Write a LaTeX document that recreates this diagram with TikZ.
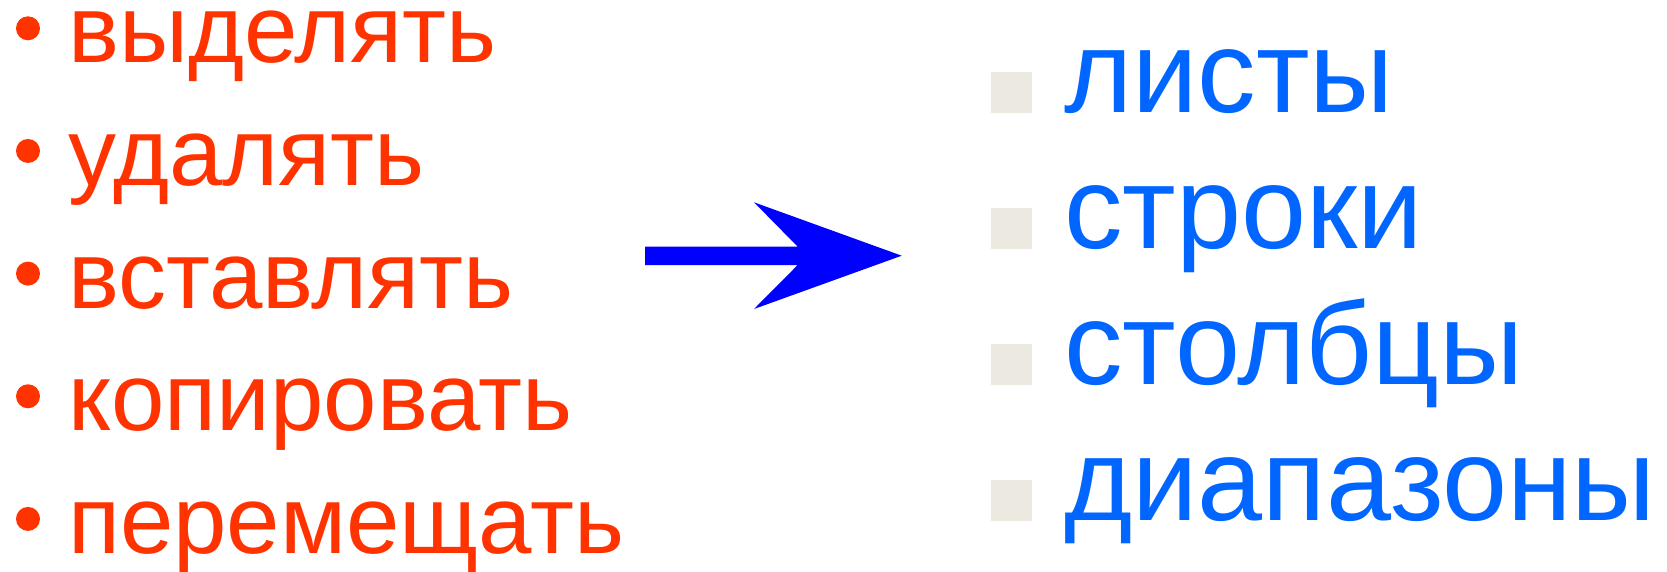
\documentclass[tikz,border=0pt]{standalone}
\usepackage{fontspec}
\setmainfont{Liberation Sans}
\definecolor{redtxt}{HTML}{FF3300}
\definecolor{bluetxt}{HTML}{0066FF}
\definecolor{sqgray}{HTML}{ECEAE0}
\definecolor{arrowblue}{HTML}{0000FF}
\tikzset{
  lefttxt/.style={anchor=base west, inner sep=0pt, text=redtxt, font=\fontsize{96}{100}\selectfont},
  righttxt/.style={anchor=base west, inner sep=0pt, text=bluetxt, font=\fontsize{117}{120}\selectfont},
  redbullet/.style={circle, fill=redtxt, minimum size=24pt, inner sep=0pt},
  graysq/.style={rectangle, fill=sqgray, minimum size=41pt, inner sep=0pt},
}
\begin{document}
\begin{tikzpicture}[x=1pt,y=-1pt]
\useasboundingbox (0,0) rectangle (1667,571);
% left list
\foreach \i/\t [evaluate=\i as \yb using {62.7+(\i-1)*122.65}] in {1/выделять,2/удалять,3/вставлять,4/копировать,5/перемещать}{
  \node[redbullet] (b\i) at (28,\yb-34.4) {};
  \node[lefttxt] (l\i) at (68,\yb) {\t};
}
% arrow
\fill[arrowblue] (645,246.7) -- (797.7,246.7) -- (754,202.3) -- (901.7,255.7) -- (754,309) -- (797.7,265) -- (645,265) -- cycle;
% right list
\foreach \i/\t [evaluate=\i as \yb using {112.7+(\i-1)*136}] in {1/листы,2/строки,3/столбцы,4/диапазоны}{
  \node[graysq] (s\i) at (1011.5,\yb-20.5) {};
  \node[righttxt] (r\i) at (1064,\yb) {\t};
}
\end{tikzpicture}
\end{document}
